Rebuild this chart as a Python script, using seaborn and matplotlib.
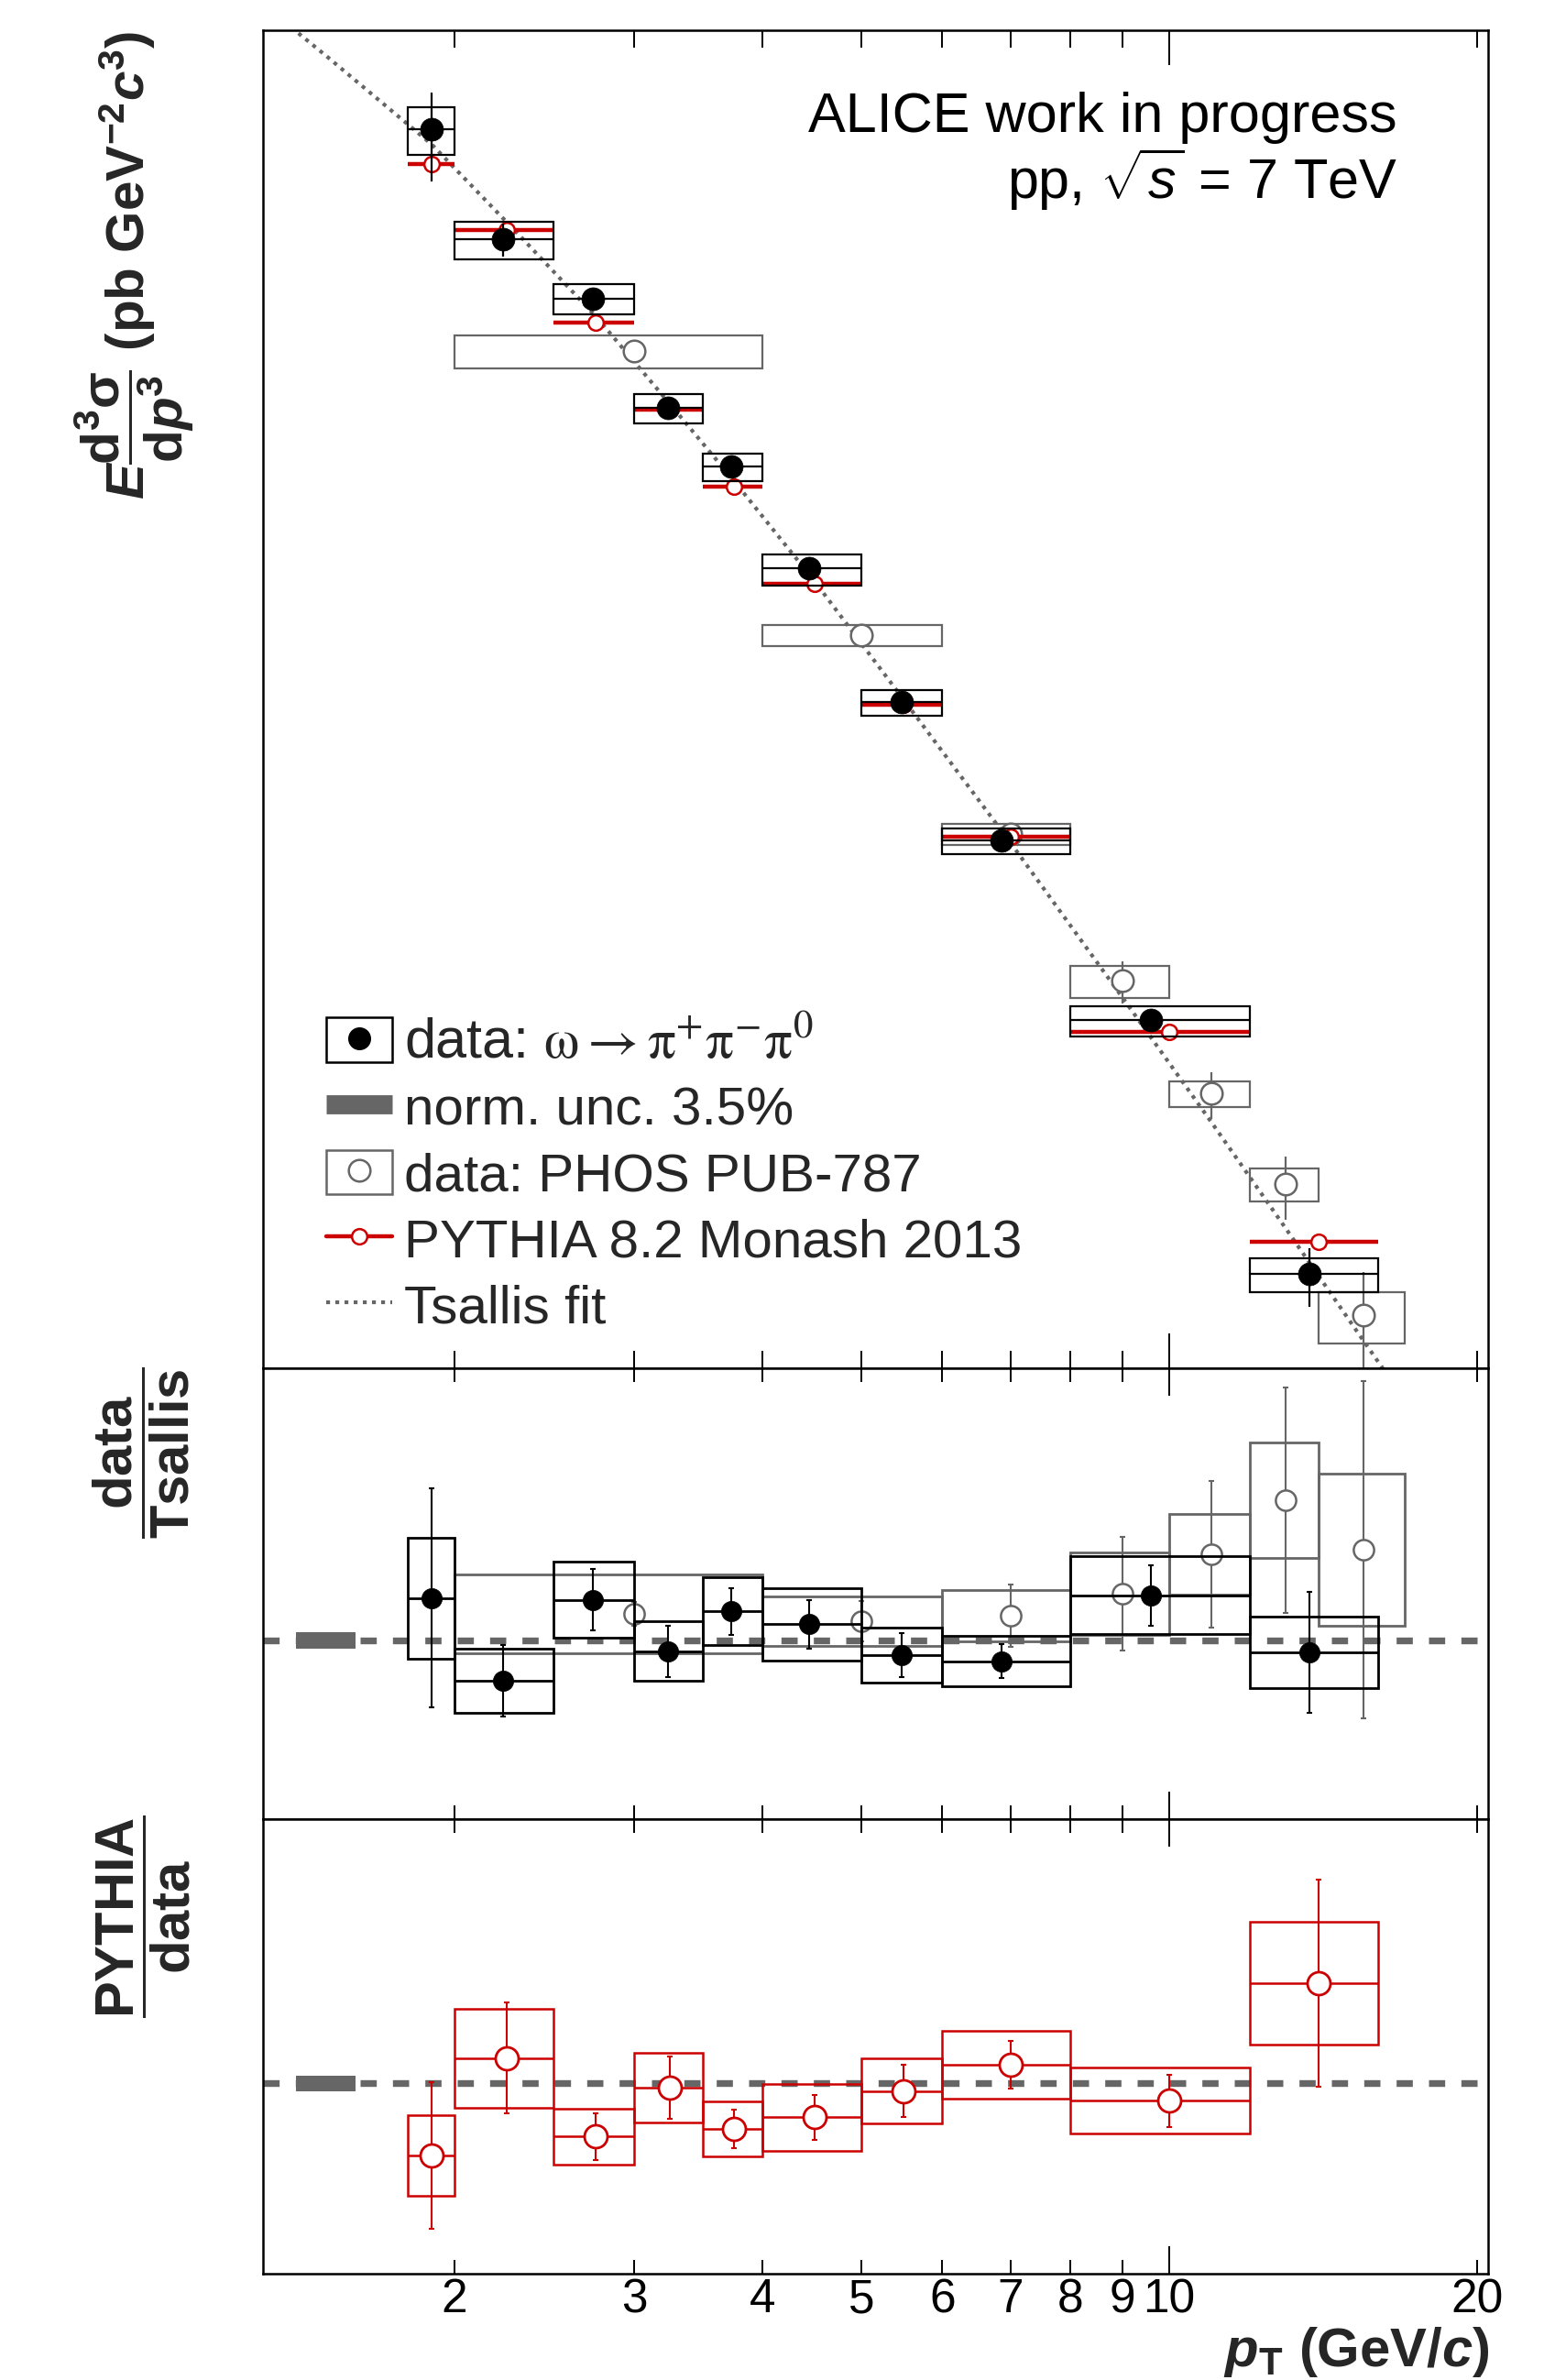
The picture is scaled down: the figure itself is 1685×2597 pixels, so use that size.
import matplotlib
matplotlib.use("Agg")
import matplotlib.pyplot as plt
from matplotlib.lines import Line2D
from matplotlib.patches import Rectangle
from matplotlib.ticker import NullLocator
import numpy as np
import seaborn as sns

# omega -> pi+ pi- pi0 measurement (bins, points, stat/sys errors)
bin_lo = [1.8, 2.0, 2.5, 3.0, 3.5, 4.0, 5.0, 6.0, 8.0, 12.0]
bin_hi = [2.0, 2.5, 3.0, 3.5, 4.0, 5.0, 6.0, 8.0, 12.0, 16.0]
data_pt = [1.9, 2.23, 2.73, 3.235, 3.73, 4.45, 5.47, 6.86, 9.6, 13.7]
data_val = [4.28e7, 1.657e7, 9.95e6, 3.88e6, 2.34e6, 9.73e5, 3.09e5, 9.4e4, 2.0e4, 2.25e3]
data_stat = [1.56e7, 2.3e6, 9.0e5, 3.4e5, 1.6e5, 7.5e4, 2.3e4, 5.7e3, 1.74e3, 5.6e2]
data_sys = [8.6e6, 2.6e6, 1.28e6, 4.9e5, 2.8e5, 1.3e5, 3.4e4, 1.03e4, 2.6e3, 3.3e2]

# PYTHIA 8.2 Monash 2013 (bin centres)
pythia_pt = [1.9, 2.25, 2.75, 3.25, 3.75, 4.5, 5.5, 7.0, 10.0, 14.0]
pythia_val = [3.16e7, 1.792e7, 8.05e6, 3.82e6, 1.97e6, 8.54e5, 3.02e5, 9.69e4, 1.806e4, 2.97e3]

# PHOS PUB-787
phos_lo = [2.0, 4.0, 6.0, 8.0, 10.0, 12.0, 14.0]
phos_hi = [4.0, 6.0, 8.0, 10.0, 12.0, 14.0, 17.0]
phos_pt = [3.0, 5.0, 7.0, 9.0, 11.0, 13.0, 15.5]
phos_val = [6.33e6, 5.49e5, 9.92e4, 2.81e4, 1.065e4, 4.88e3, 1.58e3]
phos_stat = [2.5e5, 3.6e4, 9.3e3, 5.1e3, 2.1e3, 1.3e3, 7.1e2]
phos_sys = [8.9e5, 5.0e4, 8.9e3, 3.85e3, 1.17e3, 6.9e2, 3.4e2]

# Tsallis fit
tsallis_pt = [1.3, 1.5, 1.9, 2.3, 2.75, 3.25, 3.75, 4.5, 5.5, 7.0, 9.0, 11.0, 13.0, 15.5, 17.0]
tsallis_val = [1.25e8, 8.0e7, 3.75e7, 1.76e7, 8.53e6, 4.01e6, 2.08e6, 8.73e5, 3.15e5,
               9.17e4, 2.43e4, 8.29e3, 3.33e3, 1.26e3, 7.6e2]

# data / Tsallis
ratio_data = [1.140, 0.868, 1.135, 0.965, 1.096, 1.054, 0.952, 0.932, 1.150, 0.962]
ratio_data_stat = [0.362, 0.118, 0.102, 0.085, 0.077, 0.081, 0.072, 0.057, 0.100, 0.200]
ratio_data_sys = [0.200, 0.106, 0.127, 0.098, 0.112, 0.120, 0.091, 0.083, 0.128, 0.118]
ratio_phos = [1.089, 1.064, 1.082, 1.155, 1.285, 1.464, 1.301]
ratio_phos_stat = [0.04, 0.068, 0.102, 0.187, 0.241, 0.372, 0.557]
ratio_phos_sys = [0.130, 0.082, 0.086, 0.135, 0.132, 0.192, 0.252]

# PYTHIA / data
ratio_pythia = [0.739, 1.092, 0.808, 0.985, 0.836, 0.877, 0.973, 1.067, 0.938, 1.364]
ratio_pythia_stat = [0.265, 0.201, 0.085, 0.112, 0.069, 0.081, 0.095, 0.086, 0.095, 0.375]
ratio_pythia_sys = [0.146, 0.179, 0.101, 0.128, 0.100, 0.120, 0.119, 0.123, 0.121, 0.223]

norm_x = [1.40, 1.60]
norm_half = 0.028

minor_ticks = [2, 3, 4, 5, 6, 7, 8, 9, 20]
minor_labels = ["2", "3", "4", "5", "6", "7", "8", "9", "20"]

BLACK, GREY, RED = "black", "#666666", "#cc0000"

sns.set_theme(style="ticks")
plt.rcParams["font.family"] = ["Liberation Sans", "DejaVu Sans"]
plt.rcParams.update({
    "mathtext.fontset": "custom",
    "mathtext.rm": "Liberation Sans",
    "mathtext.it": "Liberation Sans:italic",
    "mathtext.bf": "Liberation Sans:bold",
    "mathtext.bfit": "Liberation Sans:bold:italic",
    "axes.linewidth": 1.8,
    "axes.edgecolor": "black",
})


def boxes(ax, lo, hi, y, err, color, lw, z):
    lo, hi, y, err = map(np.asarray, (lo, hi, y, err))
    ax.bar(lo, 2 * err, width=hi - lo, bottom=y - err, align="edge", fill=False,
           edgecolor=color, linewidth=lw, zorder=z)


def xbars(ax, x, y, lo, hi, color, lw, z):
    x, lo, hi = map(np.asarray, (x, lo, hi))
    ax.errorbar(x, y, xerr=[x - lo, hi - x], fmt="none", ecolor=color,
                elinewidth=lw, capsize=0, zorder=z)


def ybars(ax, x, y, err, color, lw, cap, z):
    ax.errorbar(x, y, yerr=err, fmt="none", ecolor=color, elinewidth=lw,
                capsize=cap, capthick=lw, zorder=z)


def markers(ax, x, y, face, edge, ms, mew, z):
    sns.scatterplot(x=x, y=y, ax=ax, color=face, edgecolor=edge, s=ms ** 2,
                    linewidth=mew, legend=False, zorder=z)


def style_axis(ax, short, long, labels):
    ax.set_xscale("log")
    ax.set_xlim(1.3, 20.5)
    ax.set_xticks([10], labels=["10"])
    ax.set_xticks(minor_ticks, labels=minor_labels, minor=True)
    ax.tick_params(axis="x", which="both", direction="in", top=True, bottom=True,
                   width=1.4, labelsize=37, pad=3, labelbottom=labels,
                   color="black", labelcolor="black")
    ax.tick_params(axis="x", which="major", length=long)
    ax.tick_params(axis="x", which="minor", length=short)
    ax.set_yticks([])
    ax.yaxis.set_minor_locator(NullLocator())
    ax.set_xlabel("")
    ax.set_ylabel("")
    for s in ax.spines.values():
        s.set_color("black")
        s.set_linewidth(1.8)


fig = plt.figure(figsize=(16.85, 25.97), dpi=100)
L, W = 0.1703, 0.7935
ax_top = fig.add_axes([L, 0.4251, W, 0.5622])
ax_mid = fig.add_axes([L, 0.2357, W, 0.1894])
ax_bot = fig.add_axes([L, 0.0447, W, 0.1910])

# ---- spectrum
ax_top.set_yscale("log")
sns.lineplot(x=tsallis_pt, y=tsallis_val, ax=ax_top, color=GREY, lw=3.0,
             sort=False, estimator=None, zorder=1)
ax_top.lines[-1].set_linestyle((0, (1, 1.4)))

boxes(ax_top, phos_lo, phos_hi, phos_val, phos_sys, GREY, 1.6, 2)
ybars(ax_top, phos_pt, phos_val, phos_stat, GREY, 1.6, 0, 2)
markers(ax_top, phos_pt, phos_val, "white", GREY, 17, 1.8, 3)

xbars(ax_top, pythia_pt, pythia_val, bin_lo, bin_hi, RED, 3.2, 4)
markers(ax_top, pythia_pt, pythia_val, "white", RED, 12, 1.8, 5)

boxes(ax_top, bin_lo, bin_hi, data_val, data_sys, BLACK, 1.6, 6)
xbars(ax_top, data_pt, data_val, bin_lo, bin_hi, BLACK, 1.6, 6)
ybars(ax_top, data_pt, data_val, data_stat, BLACK, 1.6, 0, 6)
markers(ax_top, data_pt, data_val, BLACK, BLACK, 18, 0.5, 7)

ax_top.set_ylim(1e3, 1e8)
style_axis(ax_top, 13.7, 27.4, False)

ax_top.text(0.926, 0.924, "ALICE work in progress", transform=ax_top.transAxes,
            ha="right", va="baseline", fontsize=44, color="black")
ax_top.text(0.926, 0.874, r"pp, $\sqrt{s}$ = 7 TeV", transform=ax_top.transAxes,
            ha="right", va="baseline", fontsize=44, color="black")

handles = [
    (Rectangle((0, 0), 1, 1, fill=False, edgecolor=BLACK, lw=1.8),
     Line2D([], [], ls="none", marker="o", color=BLACK, ms=17)),
    Line2D([], [], color=GREY, lw=15, solid_capstyle="butt"),
    (Rectangle((0, 0), 1, 1, fill=False, edgecolor=GREY, lw=1.8),
     Line2D([], [], ls="none", marker="o", mfc="white", mec=GREY, mew=1.8, ms=17)),
    Line2D([], [], color=RED, lw=3.2, marker="o", mfc="white", mec=RED, mew=1.8, ms=12),
    Line2D([], [], color=GREY, lw=3.0, ls=(0, (1, 1.4))),
]
labels = [
    r"data: $\mathrm{\omega \rightarrow \pi^{+}\pi^{-}\pi^{0}}$",
    "norm. unc. 3.5%",
    "data: PHOS PUB-787",
    "PYTHIA 8.2 Monash 2013",
    "Tsallis fit",
]
leg = ax_top.legend(handles, labels, loc="upper left", bbox_to_anchor=(0.0516, 0.262),
                    frameon=False, fontsize=42, handlelength=1.23, handleheight=0.89,
                    handletextpad=0.22, labelspacing=0.27, borderpad=0, borderaxespad=0,
                    numpoints=1)
leg.get_texts()[0].set_math_fontfamily("stix")
leg.get_texts()[0].set_fontsize(44)

# ---- data / Tsallis
ax_mid.axhline(1, color=GREY, lw=5.3, linestyle=(0, (2.4, 2.4)), zorder=1)
ax_mid.bar(norm_x[0], 2 * norm_half, width=norm_x[1] - norm_x[0], bottom=1 - norm_half,
           align="edge", color=GREY, linewidth=0, zorder=8)
boxes(ax_mid, phos_lo, phos_hi, ratio_phos, ratio_phos_sys, GREY, 2.0, 2)
ybars(ax_mid, phos_pt, ratio_phos, ratio_phos_stat, GREY, 1.5, 2, 2)
markers(ax_mid, phos_pt, ratio_phos, "white", GREY, 16, 1.8, 3)
boxes(ax_mid, bin_lo, bin_hi, ratio_data, ratio_data_sys, BLACK, 2.0, 4)
xbars(ax_mid, data_pt, ratio_data, bin_lo, bin_hi, BLACK, 2.0, 4)
ybars(ax_mid, data_pt, ratio_data, ratio_data_stat, BLACK, 1.5, 2, 4)
markers(ax_mid, data_pt, ratio_data, BLACK, BLACK, 16, 0.5, 5)
ax_mid.set_ylim(0.41, 1.9)
style_axis(ax_mid, 10.8, 21.6, False)

# ---- PYTHIA / data
ax_bot.axhline(1, color=GREY, lw=5.3, linestyle=(0, (2.4, 2.4)), zorder=1)
ax_bot.bar(norm_x[0], 2 * norm_half, width=norm_x[1] - norm_x[0], bottom=1 - norm_half,
           align="edge", color=GREY, linewidth=0, zorder=8)
boxes(ax_bot, bin_lo, bin_hi, ratio_pythia, ratio_pythia_sys, RED, 1.8, 2)
xbars(ax_bot, pythia_pt, ratio_pythia, bin_lo, bin_hi, RED, 1.8, 3)
ybars(ax_bot, pythia_pt, ratio_pythia, ratio_pythia_stat, RED, 1.5, 2, 3)
markers(ax_bot, pythia_pt, ratio_pythia, "white", RED, 18, 2.0, 4)
ax_bot.set_ylim(0.31, 1.96)
style_axis(ax_bot, 10.8, 21.6, True)

# ---- axis titles
fig.text(0.087, 0.8885,
         r"$\mathbfit{E}\dfrac{\mathbf{d^{3}\sigma}}{\mathbf{d}\mathbfit{p}^{\mathbf{3}}}$"
         r" (pb GeV$^{\mathbf{-2}}$$\mathbfit{c}^{\mathbf{3}}$)",
         rotation=90, ha="center", va="center", fontsize=42, fontweight="bold")
fig.text(0.0914, 0.3897, r"$\dfrac{\mathbf{data}}{\mathbf{Tsallis}}$",
         rotation=90, ha="center", va="center", fontsize=43, fontweight="bold")
fig.text(0.0932, 0.1945, r"$\dfrac{\mathbf{PYTHIA}}{\mathbf{data}}$",
         rotation=90, ha="center", va="center", fontsize=43, fontweight="bold")
fig.text(0.9644, 0.0058, r"$\mathbfit{p}_{\mathbf{T}}$ (GeV/$\mathbfit{c}$)",
         ha="right", va="baseline", fontsize=43, fontweight="bold")

fig.savefig("out.png", dpi=100)
